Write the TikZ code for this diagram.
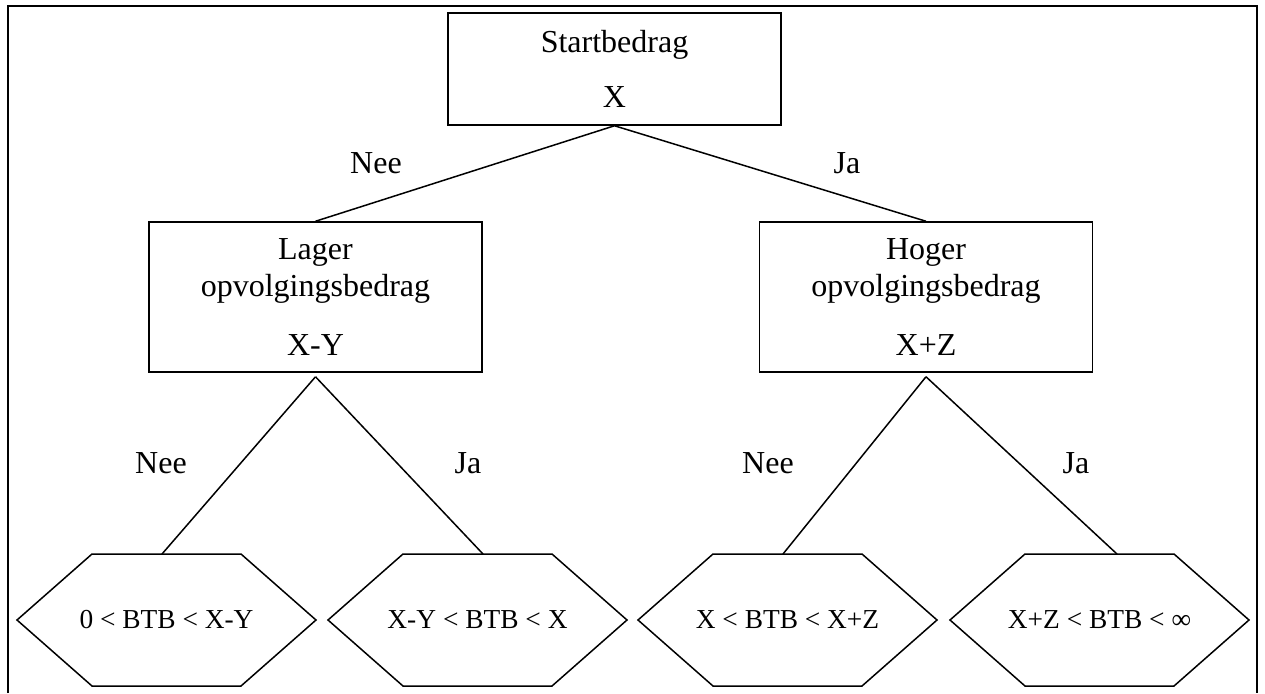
\documentclass[tikz,border=0pt]{standalone}
\usepackage{fontspec}
\setmainfont{Liberation Serif}
\usetikzlibrary{positioning,calc}

\tikzset{
  box/.style={draw, line width=0.75pt, minimum width=166.5pt, align=center,
    inner sep=0pt, font=\fontsize{16}{18.5}\selectfont},
  uitkomst/.style={minimum width=149.5pt, minimum height=66pt, inner sep=0pt,
    outer sep=0pt, font=\fontsize{13.7}{16}\selectfont},
  antw/.style={anchor=base, font=\fontsize{16}{18.5}\selectfont},
  tak/.style={line width=0.75pt}
}

\begin{document}
\begin{tikzpicture}[x=0.5pt,y=-0.5pt]
    \useasboundingbox (0,0) rectangle (1265,693);

    % Kader
    \draw[line width=1.4pt] (8,693) -- (8,6) -- (1257,6) -- (1257,693);

    % Startbedrag
    \node[box, minimum height=56pt] (start) at (614.5,69) {Startbedrag\\[9pt]X};

    % Opvolgingsbedragen
    \node[box, minimum height=75pt] (lager) at (315.5,297) {Lager\\opvolgingsbedrag\\[11pt]X-Y};
    \node[box, minimum height=75pt] (hoger) at (926,297) {Hoger\\opvolgingsbedrag\\[11pt]X+Z};
    \coordinate (splitL) at ($(lager.south)+(0,4)$);
    \coordinate (splitH) at ($(hoger.south)+(0,4)$);

    % Uitkomsten (zeshoeken)
    \node[uitkomst] (u1) at (166.5,620) {0 < BTB < X-Y};
    \node[uitkomst] (u2) at (477.5,620) {X-Y < BTB < X};
    \node[uitkomst] (u3) at (787.5,620) {X < BTB < X+Z};
    \node[uitkomst] (u4) at (1099.5,620) {X+Z < BTB < ∞};
    \foreach \u in {u1,u2,u3,u4}
        \draw[tak, line join=miter] (\u.west) -- ($(\u.north west)+(75,0)$) -- ($(\u.north east)+(-75,0)$)
            -- (\u.east) -- ($(\u.south east)+(-75,0)$) -- ($(\u.south west)+(75,0)$) -- cycle;

    % Takken
    \draw[tak] (start.south) -- (lager.north);
    \draw[tak] (start.south) -- (hoger.north);
    \draw[tak] (splitL) -- ($(u1.north)+(-4.5,0)$);
    \draw[tak] (splitL) -- ($(u2.north)+(5.5,0)$);
    \draw[tak] (splitH) -- ($(u3.north)+(-4.5,0)$);
    \draw[tak] (splitH) -- ($(u4.north)+(17.5,0)$);

    % Nee / Ja
    \node[antw] (nee0) at (376,173) {Nee};
    \node[antw] (ja0) at (847,173) {Ja};
    \node[antw] (nee1) at (161,473) {Nee};
    \node[antw] (ja1) at (468,473) {Ja};
    \node[antw] (nee2) at (768,473) {Nee};
    \node[antw] (ja2) at (1076,473) {Ja};
\end{tikzpicture}
\end{document}
